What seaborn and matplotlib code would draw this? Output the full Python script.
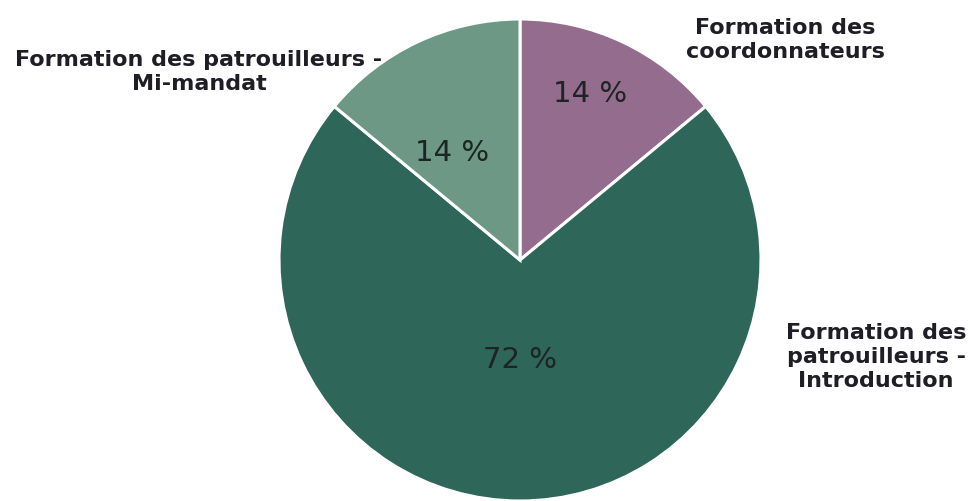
import numpy as np
import matplotlib
matplotlib.use("Agg")
import matplotlib.pyplot as plt
import seaborn as sns

# Data
categories = ["Formation des coordonnateurs",
              "Formation des patrouilleurs - Introduction",
              "Formation des patrouilleurs - Mi-mandat"]
shares = [14, 72, 14]
colors = ["#936c8e", "#2e6659", "#6d9886"]

sns.set_theme(style="white")
plt.rcParams["font.family"] = ["DejaVu Sans"]

fig = plt.figure(figsize=(9.71, 5.02), dpi=100)
ax = fig.add_axes([279 / 971, 0.0, 482 / 971, 482 / 502])

wedges, texts, autotexts = ax.pie(
    shares, colors=colors, startangle=90, counterclock=False,
    autopct=lambda p: f"{p:.0f} %", radius=1.0,
    wedgeprops=dict(edgecolor="white", linewidth=2.2),
    textprops=dict(fontsize=21, color="#1c2424"))
ax.set_xlim(-1, 1)
ax.set_ylim(-1, 1)
ax.set_aspect("auto")
ax.axis("off")

# move the percentages to where they sit in the original
label_r = [0.75, 0.41, 0.53]
label_shift = [2.3, 0, 6.8]
for w, t, r, s in zip(wedges, autotexts, label_r, label_shift):
    mid = np.deg2rad((w.theta1 + w.theta2) / 2 + s)
    t.set_position((r * np.cos(mid), r * np.sin(mid)))
    t.set_ha("center")
    t.set_va("center")

lab = dict(fontsize=16, fontweight="bold", color="#1e1e24",
           ha="center", va="center", linespacing=1.25)
fig.text(785 / 971, 1 - 40 / 502, "Formation des\ncoordonnateurs", **lab)
fig.text(199 / 971, 1 - 72 / 502, "Formation des patrouilleurs -\nMi-mandat", **lab)
fig.text(876 / 971, 1 - 357 / 502, "Formation des\npatrouilleurs -\nIntroduction", **lab)

plt.savefig("out.png", dpi=100)
